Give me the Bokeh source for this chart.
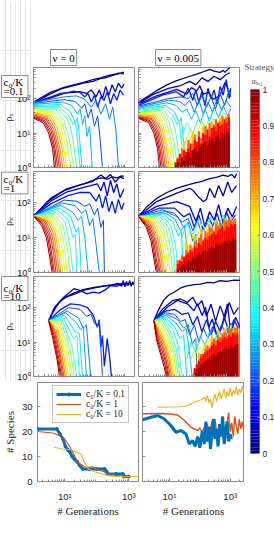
import math
from bokeh.plotting import figure
from bokeh.layouts import row, column
from bokeh.models import Legend, LegendItem, FixedTicker, Title, Range1d
from bokeh.core.properties import value
from bokeh.embed import file_html
from bokeh.resources import INLINE

# ----------------------------------------------------------------- data
# density curves: log10(generation) and log10(rho_x), one curve per strategy alpha
P11_A = [0.0, 0.05, 0.1, 0.15, 0.2, 0.25, 0.3, 0.35, 0.4, 0.45, 0.5, 0.55, 0.6, 0.65, 0.7, 0.75, 0.8, 0.85, 0.9, 0.95, 1.0]
P11_X = [
    [0.15, 0.68, 1.08, 1.40, 1.71, 2.00, 2.24, 2.45, 2.65, 2.80, 2.97],
    [0.15, 0.60, 1.00, 1.40, 1.70, 2.00, 2.24, 2.45, 2.65, 2.80, 2.97],
    [0.15, 0.70, 1.00, 1.40, 1.60, 1.80, 1.95, 2.10, 2.20, 2.30, 2.40, 2.50, 2.60, 2.70, 2.80, 2.90, 2.97],
    [0.15, 0.70, 1.10, 1.40, 1.60, 1.75, 1.85, 1.95, 2.05, 2.15, 2.25, 2.35, 2.45, 2.55, 2.65, 2.75, 2.85, 2.96],
    [0.15, 1.10, 1.45, 1.65, 1.75, 1.85, 1.95, 2.05, 2.15, 2.22, 2.30],
    [0.15, 1.10, 1.50, 1.75, 1.95, 2.10, 2.25, 2.40, 2.52, 2.62, 2.72, 2.80],
    [0.15, 1.05, 1.35, 1.52, 1.60, 1.68, 1.75, 1.82, 1.90, 1.98],
    [0.15, 1.00, 1.30, 1.45, 1.52, 1.58, 1.66],
    [0.15, 0.95, 1.25, 1.38, 1.45, 1.52, 1.60],
    [0.15, 0.90, 1.18, 1.30, 1.38, 1.50],
    [0.15, 0.85, 1.10, 1.27, 1.40],
    [0.15, 0.80, 1.04, 1.20, 1.32],
    [0.15, 0.75, 0.98, 1.14, 1.24],
    [0.15, 0.70, 0.93, 1.08, 1.18],
    [0.15, 0.66, 0.88, 1.03, 1.12],
    [0.15, 0.62, 0.83, 0.97, 1.06],
    [0.15, 0.58, 0.78, 0.92, 1.00],
    [0.15, 0.55, 0.74, 0.87, 0.95],
    [0.15, 0.50, 0.70, 0.82, 0.90],
    [0.15, 0.48, 0.66, 0.78, 0.85],
    [0.15, 0.45, 0.62, 0.74, 0.80],
]
P11_Y = [
    [1.90, 2.18, 2.32, 2.40, 2.47, 2.55, 2.60, 2.66, 2.70, 2.72, 2.77],
    [1.87, 2.10, 2.28, 2.38, 2.45, 2.50, 2.58, 2.62, 2.68, 2.74, 2.72],
    [1.88, 2.05, 2.15, 2.18, 2.20, 2.15, 2.25, 2.05, 2.25, 2.00, 2.35, 2.10, 2.40, 2.20, 2.45, 2.30, 2.42],
    [1.89, 2.02, 2.15, 2.22, 2.18, 2.05, 2.15, 1.90, 2.10, 1.75, 2.05, 1.95, 2.20, 1.85, 2.15, 1.95, 2.25, 2.10],
    [1.86, 1.97, 1.92, 1.72, 1.85, 1.45, 1.70, 1.20, 1.50, 0.90, 0.0],
    [1.88, 2.05, 2.08, 1.98, 1.75, 1.95, 1.55, 1.85, 1.40, 1.75, 1.10, 0.0],
    [1.83, 1.90, 1.80, 1.55, 1.70, 1.25, 1.50, 0.90, 1.20, 0.0],
    [1.80, 1.83, 1.62, 1.30, 1.45, 0.90, 0.0],
    [1.77, 1.77, 1.50, 1.25, 1.35, 0.80, 0.0],
    [1.74, 1.72, 1.42, 1.20, 0.80, 0.0],
    [1.71, 1.67, 1.36, 0.80, 0.0],
    [1.68, 1.62, 1.30, 0.70, 0.0],
    [1.65, 1.58, 1.25, 0.65, 0.0],
    [1.62, 1.54, 1.20, 0.60, 0.0],
    [1.59, 1.50, 1.16, 0.60, 0.0],
    [1.56, 1.46, 1.12, 0.55, 0.0],
    [1.53, 1.42, 1.10, 0.55, 0.0],
    [1.50, 1.39, 1.07, 0.55, 0.0],
    [1.48, 1.36, 1.05, 0.55, 0.0],
    [1.46, 1.33, 1.02, 0.55, 0.0],
    [1.43, 1.30, 1.00, 0.55, 0.0],
]

P21_A = [0.0, 0.05, 0.1, 0.15, 0.2, 0.25, 0.3, 0.35, 0.4, 0.45, 0.5, 0.55, 0.6, 0.65, 0.7, 0.75, 0.8, 0.85, 0.9, 0.95, 1.0]
P21_X = [
    [0.15, 0.60, 1.10, 1.60, 2.00, 2.25, 2.40, 2.55, 2.70, 2.85, 2.97],
    [0.15, 0.68, 1.20, 1.72, 2.14, 2.30, 2.45, 2.60, 2.75, 2.90, 2.97],
    [0.15, 0.68, 1.20, 1.72, 2.14, 2.25, 2.35, 2.45, 2.55, 2.65, 2.75, 2.85, 2.97],
    [0.15, 0.70, 1.20, 1.60, 1.90, 2.10, 2.20, 2.30, 2.40, 2.50, 2.60, 2.70, 2.80, 2.90, 2.97],
    [0.15, 1.10, 1.50, 1.75, 1.90, 2.05, 2.15, 2.25, 2.33, 2.36],
    [0.15, 1.05, 1.45, 1.65, 1.78, 1.90, 2.00, 2.10, 2.20],
    [0.15, 1.00, 1.35, 1.55, 1.65, 1.75, 1.85],
    [0.15, 0.95, 1.30, 1.48, 1.56, 1.64],
    [0.15, 0.90, 1.22, 1.38, 1.45, 1.50],
    [0.15, 0.85, 1.14, 1.28, 1.38],
    [0.15, 0.80, 1.06, 1.20, 1.28],
    [0.15, 0.75, 0.99, 1.12, 1.20],
    [0.15, 0.70, 0.93, 1.05, 1.13],
    [0.15, 0.66, 0.87, 0.98, 1.06],
    [0.15, 0.62, 0.82, 0.93, 1.00],
    [0.15, 0.58, 0.77, 0.88, 0.95],
    [0.15, 0.54, 0.72, 0.83, 0.90],
    [0.15, 0.50, 0.67, 0.78, 0.85],
    [0.15, 0.46, 0.63, 0.73, 0.80],
    [0.15, 0.43, 0.59, 0.69, 0.76],
    [0.15, 0.40, 0.55, 0.65, 0.72],
]
P21_Y = [
    [1.62, 2.05, 2.35, 2.52, 2.62, 2.80, 2.70, 2.82, 2.60, 2.75, 2.70],
    [1.62, 2.13, 2.41, 2.55, 2.70, 2.72, 2.68, 2.75, 2.72, 2.78, 2.76],
    [1.62, 2.05, 2.32, 2.45, 2.55, 2.35, 2.60, 2.20, 2.65, 2.30, 2.55, 2.15, 2.40],
    [1.62, 1.98, 2.20, 2.30, 2.30, 2.05, 2.25, 1.85, 2.20, 1.75, 2.05, 1.70, 2.10, 1.80, 2.00],
    [1.62, 2.08, 2.05, 1.90, 1.98, 1.65, 1.85, 1.30, 1.50, 0.0],
    [1.62, 2.00, 1.92, 1.70, 1.80, 1.35, 1.55, 0.80, 0.0],
    [1.62, 1.93, 1.75, 1.50, 1.62, 1.00, 0.0],
    [1.62, 1.85, 1.62, 1.15, 1.30, 0.0],
    [1.62, 1.78, 1.52, 1.00, 1.10, 0.0],
    [1.62, 1.72, 1.44, 0.80, 0.0],
    [1.62, 1.67, 1.36, 0.75, 0.0],
    [1.62, 1.62, 1.30, 0.70, 0.0],
    [1.62, 1.58, 1.25, 0.65, 0.0],
    [1.62, 1.55, 1.20, 0.60, 0.0],
    [1.62, 1.52, 1.16, 0.55, 0.0],
    [1.62, 1.49, 1.13, 0.55, 0.0],
    [1.62, 1.46, 1.10, 0.50, 0.0],
    [1.62, 1.43, 1.08, 0.50, 0.0],
    [1.62, 1.40, 1.05, 0.45, 0.0],
    [1.62, 1.38, 1.02, 0.45, 0.0],
    [1.62, 1.35, 1.00, 0.45, 0.0],
]

P31_A = [0.0, 0.05, 0.1, 0.15, 0.2, 0.25, 0.3, 0.35, 0.4, 0.45, 0.5, 0.55, 0.6, 0.65, 0.7, 0.75, 0.8, 0.85, 0.9, 0.95, 1.0]
P31_X = [
    [0.62, 0.85, 1.10, 1.40, 1.70, 2.00, 2.30, 2.60, 2.80, 2.90, 2.95, 3.00, 3.05, 3.10, 3.15, 3.20, 3.25, 3.28],
    [0.62, 0.80, 1.00, 1.20, 1.45, 1.70, 1.95, 2.20, 2.45, 2.70, 2.95, 3.10, 3.28],
    [0.62, 0.80, 1.09, 1.41, 1.60, 1.82, 2.00, 2.20, 2.40, 2.55, 2.75, 2.90, 3.05, 3.20, 3.28],
    [0.62, 1.00, 1.30, 1.60, 1.82, 2.00, 2.14, 2.20, 2.25, 2.30, 2.36, 2.45, 2.52, 2.58],
    [0.62, 1.25, 1.60, 1.80, 1.95, 2.05, 2.14, 2.20, 2.25, 2.30],
    [0.62, 1.20, 1.55, 1.70, 1.80, 1.93],
    [0.62, 1.15, 1.50, 1.62, 1.70, 1.80],
    [0.62, 1.12, 1.45, 1.58, 1.68],
    [0.62, 1.08, 1.40, 1.50, 1.58],
    [0.62, 1.04, 1.34, 1.50],
    [0.62, 1.00, 1.28, 1.42],
    [0.62, 0.96, 1.22, 1.36],
    [0.62, 0.93, 1.17, 1.30],
    [0.62, 0.90, 1.12, 1.24],
    [0.62, 0.88, 1.08, 1.19],
    [0.62, 0.85, 1.04, 1.14],
    [0.62, 0.83, 1.00, 1.10],
    [0.62, 0.81, 0.97, 1.06],
    [0.62, 0.79, 0.94, 1.02],
    [0.62, 0.77, 0.91, 0.99],
    [0.62, 0.75, 0.88, 0.96],
]
P31_Y = [
    [1.62, 2.05, 2.28, 2.42, 2.52, 2.58, 2.62, 2.66, 2.70, 2.62, 2.78, 2.60, 2.76, 2.64, 2.78, 2.62, 2.75, 2.68],
    [1.62, 1.95, 2.21, 2.32, 2.40, 2.50, 2.55, 2.60, 2.64, 2.67, 2.70, 2.69, 2.70],
    [1.62, 2.00, 2.30, 2.55, 2.50, 2.40, 2.45, 2.42, 2.52, 2.64, 2.62, 2.68, 2.66, 2.70, 2.68],
    [1.62, 1.95, 2.11, 2.08, 2.01, 1.80, 1.43, 1.63, 0.85, 1.19, 0.30, 1.10, 0.60, 0.0],
    [1.62, 2.00, 1.95, 1.75, 1.80, 1.55, 1.45, 1.65, 0.85, 0.0],
    [1.62, 1.90, 1.70, 1.40, 1.50, 0.0],
    [1.62, 1.85, 1.55, 1.35, 1.45, 0.0],
    [1.62, 1.78, 1.30, 1.25, 0.0],
    [1.62, 1.70, 1.10, 1.20, 0.0],
    [1.62, 1.65, 0.90, 0.0],
    [1.62, 1.60, 0.85, 0.0],
    [1.62, 1.55, 0.80, 0.0],
    [1.62, 1.50, 0.75, 0.0],
    [1.62, 1.45, 0.70, 0.0],
    [1.62, 1.40, 0.65, 0.0],
    [1.62, 1.35, 0.60, 0.0],
    [1.62, 1.30, 0.55, 0.0],
    [1.62, 1.25, 0.55, 0.0],
    [1.62, 1.20, 0.50, 0.0],
    [1.62, 1.15, 0.50, 0.0],
    [1.62, 1.10, 0.50, 0.0],
]

P12_A = [0.0, 0.05, 0.1, 0.15, 0.2, 0.25, 0.3, 0.35, 0.4, 0.45, 0.5, 0.55, 0.6, 0.65, 0.7, 0.75, 0.8, 0.85, 0.9, 0.95, 1.0, 0.45, 0.55, 0.65]
P12_X = [
    [0.11, 0.45, 0.71, 1.05, 1.37, 1.70, 2.03, 2.25, 2.46, 2.60, 2.79, 2.90, 2.96, 3.05, 3.12],
    [0.11, 0.60, 1.10, 1.50, 1.80, 2.00, 2.20, 2.40, 2.60, 2.80, 3.00, 3.12],
    [0.11, 0.71, 1.37, 1.70, 1.86, 2.03, 2.13, 2.25, 2.41, 2.57, 2.79, 2.96, 3.07],
    [0.11, 0.90, 1.36, 1.60, 1.75, 1.90, 2.00, 2.10, 2.20, 2.30, 2.40, 2.50, 2.60, 2.70, 2.80, 2.90, 3.00, 3.10, 3.15],
    [0.11, 1.10, 1.50, 1.75, 1.90, 2.05, 2.20, 2.35, 2.50, 2.65, 2.80, 2.95, 3.10, 3.15],
    [0.11, 1.10, 1.45, 1.65, 1.80, 1.95, 2.10, 2.25, 2.40, 2.55, 2.70, 2.85, 3.00, 3.15],
    [0.11, 1.05, 1.35, 1.55, 1.70, 1.85, 2.00, 2.15, 2.30, 2.45, 2.60, 2.75, 2.90, 3.05, 3.15],
    [0.11, 1.00, 1.30, 1.45, 1.52, 1.58, 1.66],
    [0.11, 0.95, 1.25, 1.38, 1.45, 1.52, 1.60],
    [0.11, 0.90, 1.18, 1.30, 1.38, 1.50],
    [0.11, 0.85, 1.10, 1.27, 1.40],
    [0.11, 0.80, 1.04, 1.20, 1.32],
    [0.11, 0.75, 0.98, 1.14, 1.24],
    [0.11, 0.70, 0.93, 1.08, 1.18],
    [0.11, 0.66, 0.88, 1.03, 1.12],
    [0.11, 0.62, 0.83, 0.97, 1.06],
    [0.11, 0.58, 0.78, 0.92, 1.00],
    [0.11, 0.55, 0.74, 0.87, 0.95],
    [0.11, 0.50, 0.70, 0.82, 0.90],
    [0.11, 0.48, 0.66, 0.78, 0.85],
    [0.11, 0.45, 0.62, 0.74, 0.80],
    [1.50, 1.70, 1.90, 2.10, 2.30, 2.50, 2.70, 2.90, 3.10],
    [1.60, 1.80, 2.00, 2.20, 2.40, 2.60, 2.80, 3.00, 3.15],
    [1.70, 1.90, 2.10, 2.30, 2.50, 2.70, 2.90, 3.10],
]
P12_Y = [
    [1.89, 2.08, 2.23, 2.40, 2.52, 2.62, 2.71, 2.78, 2.85, 2.80, 2.76, 2.82, 2.76, 2.85, 2.90],
    [1.86, 2.12, 2.30, 2.38, 2.50, 2.40, 2.60, 2.50, 2.65, 2.55, 2.70, 2.75],
    [1.84, 2.08, 2.27, 2.13, 2.32, 2.22, 2.37, 2.13, 2.18, 1.98, 2.08, 2.47, 2.27],
    [1.80, 2.10, 2.20, 2.05, 2.30, 1.95, 2.25, 1.90, 2.20, 1.80, 2.30, 2.00, 2.25, 1.85, 2.35, 2.10, 2.55, 2.00, 2.30],
    [1.78, 2.00, 2.05, 2.00, 2.15, 1.80, 2.10, 1.75, 2.05, 1.70, 2.15, 1.80, 2.25, 2.05],
    [1.75, 1.95, 1.92, 1.80, 1.95, 1.60, 1.95, 1.55, 1.90, 1.60, 2.00, 1.65, 1.95, 1.75],
    [1.72, 1.88, 1.80, 1.60, 1.70, 1.40, 1.65, 1.30, 1.70, 1.35, 1.75, 1.45, 1.80, 1.50, 1.70],
    [1.69, 1.80, 1.62, 1.30, 1.45, 0.90, 0.0],
    [1.66, 1.75, 1.50, 1.25, 1.35, 0.80, 0.0],
    [1.63, 1.70, 1.42, 1.20, 0.80, 0.0],
    [1.61, 1.66, 1.36, 0.80, 0.0],
    [1.59, 1.62, 1.30, 0.70, 0.0],
    [1.57, 1.58, 1.25, 0.65, 0.0],
    [1.55, 1.54, 1.20, 0.60, 0.0],
    [1.53, 1.50, 1.16, 0.60, 0.0],
    [1.51, 1.46, 1.12, 0.55, 0.0],
    [1.49, 1.42, 1.10, 0.55, 0.0],
    [1.48, 1.39, 1.07, 0.55, 0.0],
    [1.46, 1.36, 1.05, 0.55, 0.0],
    [1.45, 1.33, 1.02, 0.55, 0.0],
    [1.43, 1.30, 1.00, 0.55, 0.0],
    [0.80, 1.30, 1.00, 1.45, 1.15, 1.50, 1.20, 1.60, 1.40],
    [0.60, 1.10, 0.90, 1.35, 1.10, 1.40, 1.25, 1.50, 1.30],
    [0.50, 1.00, 0.90, 1.25, 1.05, 1.35, 1.20, 1.45],
]

P22_A = [0.0, 0.05, 0.1, 0.15, 0.2, 0.25, 0.3, 0.35, 0.4, 0.45, 0.5, 0.55, 0.6, 0.65, 0.7, 0.75, 0.8, 0.85, 0.9, 0.95, 1.0, 0.4, 0.55, 0.65]
P22_X = [
    [0.11, 0.40, 0.71, 1.05, 1.37, 1.65, 1.92, 2.20, 2.46, 2.70, 2.90, 3.05, 3.18, 3.28, 3.34],
    [0.11, 0.71, 1.37, 1.80, 1.92, 2.05, 2.25, 2.35, 2.46, 2.62, 2.75, 2.90, 3.05, 3.18, 3.34],
    [0.11, 0.71, 1.37, 1.80, 2.00, 2.15, 2.30, 2.45, 2.60, 2.75, 2.90, 3.05, 3.20, 3.34],
    [0.11, 0.80, 1.30, 1.60, 1.80, 1.95, 2.10, 2.25, 2.40, 2.55, 2.70, 2.85, 3.00, 3.15, 3.30],
    [0.11, 0.90, 1.30, 1.55, 1.75, 1.90, 2.05, 2.20, 2.35, 2.50, 2.65, 2.80, 2.95, 3.10, 3.25],
    [0.11, 1.00, 1.40, 1.60, 1.75, 1.90, 2.00, 2.10],
    [0.11, 0.95, 1.30, 1.50, 1.62, 1.72, 1.82],
    [0.11, 0.90, 1.25, 1.42, 1.52, 1.60],
    [0.11, 0.85, 1.18, 1.33, 1.42],
    [0.11, 0.80, 1.10, 1.25, 1.33],
    [0.11, 0.75, 1.02, 1.16, 1.25],
    [0.11, 0.70, 0.95, 1.08, 1.16],
    [0.11, 0.66, 0.89, 1.01, 1.09],
    [0.11, 0.62, 0.83, 0.95, 1.03],
    [0.11, 0.58, 0.78, 0.89, 0.97],
    [0.11, 0.54, 0.73, 0.84, 0.92],
    [0.11, 0.50, 0.68, 0.79, 0.87],
    [0.11, 0.46, 0.64, 0.75, 0.82],
    [0.11, 0.43, 0.60, 0.70, 0.78],
    [0.11, 0.40, 0.56, 0.66, 0.74],
    [0.11, 0.37, 0.52, 0.62, 0.70],
    [1.50, 1.70, 1.90, 2.10, 2.30, 2.50, 2.70, 2.90, 3.10, 3.30],
    [1.60, 1.80, 2.00, 2.20, 2.40, 2.60, 2.80, 3.00, 3.20, 3.34],
    [1.70, 1.90, 2.10, 2.30, 2.50, 2.70, 2.90, 3.10, 3.30],
]
P22_Y = [
    [1.61, 1.90, 2.13, 2.30, 2.42, 2.50, 2.56, 2.62, 2.70, 2.74, 2.80, 2.76, 2.82, 2.72, 2.84],
    [1.61, 2.04, 2.28, 2.42, 2.35, 2.20, 2.04, 2.10, 2.42, 2.15, 2.50, 2.20, 2.60, 2.30, 2.50],
    [1.61, 1.90, 2.04, 1.90, 1.47, 1.85, 1.30, 1.75, 1.50, 1.95, 1.40, 1.85, 1.60, 1.90],
    [1.61, 1.85, 1.85, 1.60, 1.70, 1.30, 1.65, 1.20, 1.60, 1.35, 1.70, 1.25, 1.75, 1.45, 1.65],
    [1.61, 1.80, 1.70, 1.45, 1.55, 1.20, 1.50, 1.10, 1.45, 1.20, 1.55, 1.25, 1.60, 1.30, 1.50],
    [1.61, 1.75, 1.60, 1.30, 1.45, 0.90, 1.10, 0.0],
    [1.61, 1.72, 1.55, 1.20, 1.35, 0.70, 0.0],
    [1.61, 1.70, 1.45, 1.05, 1.20, 0.0],
    [1.61, 1.67, 1.35, 0.80, 0.0],
    [1.61, 1.64, 1.30, 0.75, 0.0],
    [1.61, 1.60, 1.25, 0.70, 0.0],
    [1.61, 1.56, 1.20, 0.65, 0.0],
    [1.61, 1.52, 1.15, 0.60, 0.0],
    [1.61, 1.48, 1.10, 0.55, 0.0],
    [1.61, 1.45, 1.06, 0.50, 0.0],
    [1.61, 1.42, 1.03, 0.50, 0.0],
    [1.61, 1.39, 1.00, 0.45, 0.0],
    [1.61, 1.36, 0.98, 0.45, 0.0],
    [1.61, 1.34, 0.96, 0.40, 0.0],
    [1.61, 1.32, 0.94, 0.40, 0.0],
    [1.61, 1.30, 0.92, 0.40, 0.0],
    [0.90, 1.40, 1.10, 1.55, 1.25, 1.60, 1.30, 1.65, 1.40, 1.60],
    [0.70, 1.20, 0.95, 1.40, 1.15, 1.50, 1.25, 1.55, 1.35, 1.50],
    [0.60, 1.05, 0.90, 1.30, 1.10, 1.40, 1.20, 1.45, 1.35],
]

P32_A = [0.0, 0.05, 0.1, 0.15, 0.2, 0.25, 0.3, 0.35, 0.4, 0.45, 0.5, 0.55, 0.6, 0.65, 0.7, 0.75, 0.8, 0.85, 0.9, 0.95, 1.0, 0.35, 0.5, 0.65]
P32_X = [
    [0.62, 0.78, 0.94, 1.10, 1.27, 1.50, 1.71, 1.95, 2.15, 2.40, 2.59, 2.80, 3.03, 3.25, 3.45],
    [0.62, 0.90, 1.23, 1.50, 1.72, 1.90, 2.05, 2.20, 2.35, 2.50, 2.65, 2.80, 2.95, 3.10, 3.25, 3.40],
    [0.62, 1.06, 1.39, 1.72, 1.94, 2.05, 2.21, 2.32, 2.43, 2.54, 2.71, 2.87, 3.04, 3.15, 3.31, 3.45],
    [0.62, 1.00, 1.30, 1.55, 1.75, 1.90, 2.05, 2.20, 2.35, 2.50, 2.65, 2.80, 2.95, 3.10, 3.25, 3.40],
    [0.62, 1.00, 1.30, 1.50, 1.65, 1.80, 1.95, 2.10, 2.25, 2.40, 2.55, 2.70, 2.85, 3.00, 3.15, 3.30, 3.45],
    [0.62, 1.05, 1.40, 1.60, 1.75, 1.88, 2.00, 2.05],
    [0.62, 1.00, 1.35, 1.55, 1.68, 1.78, 1.88],
    [0.62, 0.98, 1.30, 1.48, 1.60, 1.70],
    [0.62, 0.95, 1.25, 1.42, 1.55],
    [0.62, 0.92, 1.20, 1.36, 1.48],
    [0.62, 0.90, 1.16, 1.32, 1.42],
    [0.62, 0.87, 1.12, 1.27, 1.37],
    [0.62, 0.85, 1.08, 1.23, 1.32],
    [0.62, 0.83, 1.04, 1.19, 1.28],
    [0.62, 0.81, 1.01, 1.15, 1.24],
    [0.62, 0.79, 0.98, 1.11, 1.20],
    [0.62, 0.77, 0.95, 1.07, 1.16],
    [0.62, 0.75, 0.92, 1.04, 1.12],
    [0.62, 0.73, 0.89, 1.01, 1.09],
    [0.62, 0.72, 0.86, 0.98, 1.06],
    [0.62, 0.71, 0.84, 0.95, 1.03],
    [1.70, 1.85, 2.00, 2.15, 2.30, 2.45, 2.60, 2.75, 2.90, 3.05, 3.20, 3.35],
    [1.80, 2.00, 2.20, 2.40, 2.60, 2.80, 3.00, 3.20, 3.40],
    [1.90, 2.10, 2.30, 2.50, 2.70, 2.90, 3.10, 3.30, 3.45],
]
P32_Y = [
    [1.62, 1.95, 2.21, 2.36, 2.44, 2.57, 2.63, 2.67, 2.68, 2.73, 2.72, 2.78, 2.76, 2.80, 2.79],
    [1.62, 1.95, 2.20, 2.25, 2.15, 2.30, 2.05, 2.20, 1.75, 2.10, 1.60, 2.05, 1.70, 2.15, 1.80, 2.00],
    [1.62, 2.01, 2.21, 2.11, 1.91, 2.11, 1.77, 2.01, 1.43, 1.67, 1.14, 1.53, 2.11, 1.24, 1.72, 1.43],
    [1.62, 1.90, 1.95, 1.80, 1.85, 1.50, 1.75, 1.30, 1.65, 1.20, 1.60, 1.30, 1.70, 1.25, 1.65, 1.40],
    [1.62, 1.85, 1.80, 1.60, 1.65, 1.20, 1.50, 1.00, 1.40, 1.10, 1.45, 1.15, 1.50, 1.20, 1.55, 1.30, 1.50],
    [1.62, 1.80, 1.65, 1.40, 1.50, 0.95, 1.10, 0.0],
    [1.62, 1.78, 1.55, 1.30, 1.40, 0.80, 0.0],
    [1.62, 1.75, 1.45, 1.10, 1.20, 0.0],
    [1.62, 1.72, 1.35, 0.90, 0.0],
    [1.62, 1.68, 1.25, 0.80, 0.0],
    [1.62, 1.62, 1.18, 0.70, 0.0],
    [1.62, 1.55, 1.10, 0.65, 0.0],
    [1.62, 1.48, 1.05, 0.60, 0.0],
    [1.62, 1.42, 1.00, 0.55, 0.0],
    [1.62, 1.36, 0.95, 0.50, 0.0],
    [1.62, 1.30, 0.90, 0.50, 0.0],
    [1.62, 1.25, 0.85, 0.45, 0.0],
    [1.62, 1.20, 0.80, 0.40, 0.0],
    [1.62, 1.15, 0.75, 0.40, 0.0],
    [1.62, 1.10, 0.70, 0.35, 0.0],
    [1.62, 1.05, 0.65, 0.30, 0.0],
    [0.50, 1.00, 0.70, 1.20, 0.90, 1.30, 1.00, 1.35, 1.10, 1.45, 1.20, 1.40],
    [0.40, 0.90, 0.70, 1.15, 0.95, 1.30, 1.10, 1.40, 1.30],
    [0.50, 0.85, 0.75, 1.10, 0.95, 1.25, 1.15, 1.40, 1.35],
]

# dense high-strategy region (nu = 0.005): log10 generation bin edges, log10 top per bin
FILL_EDGES = [1.30, 1.37, 1.44, 1.51, 1.58, 1.65, 1.72, 1.79, 1.86, 1.93, 2.00, 2.07, 2.14, 2.21, 2.28, 2.35,
              2.42, 2.49, 2.56, 2.63, 2.70, 2.77, 2.84, 2.91, 2.98, 3.05, 3.12, 3.19, 3.26, 3.33, 3.40]
FILL_ALPHA = [0.68, 0.78, 0.87, 0.97]  # yellow, orange, red, dark red layers
P12_FILL = [
    [0, 0, 0, 0, 0.75, 0, 0, 0, 1.00, 0, 0, 0, 0, 1.20, 0, 0, 0, 1.35, 0, 0, 0, 1.45, 0, 0, 1.50, 0, 0, 0, 0, 0],
    [0, 0.30, 0, 0.55, 0.50, 0.35, 0.80, 0.45, 0.70, 0.95, 0.60, 1.05, 0.85, 1.00, 1.20, 0.90, 1.30, 1.10, 1.25, 1.40, 1.15, 1.35, 1.50, 1.30, 1.45, 1.55, 0, 0, 0, 0],
    [0.15, 0.25, 0.40, 0.20, 0.50, 0.45, 0.55, 0.70, 0.50, 0.80, 0.75, 0.90, 0.70, 1.00, 0.95, 1.10, 0.90, 1.15, 1.20, 1.05, 1.30, 1.20, 1.25, 1.40, 1.30, 1.45, 0, 0, 0, 0],
    [0.05, 0.15, 0.10, 0.30, 0.20, 0.35, 0.45, 0.30, 0.50, 0.55, 0.45, 0.65, 0.60, 0.70, 0.75, 0.65, 0.80, 0.85, 0.75, 0.90, 0.95, 0.85, 1.00, 0.95, 1.05, 1.00, 0, 0, 0, 0],
]
P22_FILL = [
    [0, 0, 0, 0, 0, 0.85, 0, 0, 0, 1.05, 0, 0, 1.25, 0, 0, 0, 1.40, 0, 0, 1.50, 0, 0, 0, 1.55, 0, 0, 1.60, 0, 0, 0],
    [0, 0.35, 0.20, 0.50, 0.45, 0.65, 0.60, 0.80, 0.70, 0.90, 0.85, 1.00, 1.10, 0.95, 1.20, 1.15, 1.30, 1.25, 1.20, 1.40, 1.35, 1.45, 1.30, 1.50, 1.45, 1.55, 1.50, 1.45, 1.55, 0],
    [0, 0.25, 0.35, 0.30, 0.45, 0.50, 0.55, 0.65, 0.60, 0.75, 0.70, 0.85, 0.80, 0.90, 1.00, 0.95, 1.05, 1.10, 1.15, 1.10, 1.20, 1.25, 1.30, 1.20, 1.35, 1.30, 1.40, 1.35, 1.40, 0],
    [0, 0.10, 0.15, 0.20, 0.25, 0.30, 0.35, 0.30, 0.45, 0.40, 0.50, 0.55, 0.50, 0.60, 0.65, 0.60, 0.70, 0.75, 0.70, 0.80, 0.85, 0.80, 0.85, 0.90, 0.90, 0.95, 0.90, 1.00, 0.95, 0],
]
P32_FILL = [
    [0, 0, 0, 0, 0, 0, 0, 0, 0, 0, 0, 0.70, 0, 0, 1.00, 0, 0, 1.20, 0, 0, 1.35, 0, 0, 1.40, 0, 0, 1.50, 0, 1.45, 0],
    [0, 0, 0, 0, 0, 0, 0, 0, 0, 0.20, 0.40, 0.50, 0.65, 0.60, 0.80, 0.90, 0.85, 1.00, 1.10, 1.05, 1.20, 1.15, 1.25, 1.30, 1.20, 1.35, 1.40, 1.30, 1.40, 1.45],
    [0, 0, 0, 0, 0, 0, 0, 0, 0, 0.25, 0.35, 0.45, 0.55, 0.65, 0.70, 0.75, 0.80, 0.90, 0.95, 0.90, 1.05, 1.00, 1.10, 1.15, 1.10, 1.20, 1.15, 1.25, 1.20, 1.25],
    [0, 0, 0, 0, 0, 0, 0, 0, 0, 0.10, 0.20, 0.25, 0.35, 0.40, 0.45, 0.50, 0.55, 0.60, 0.65, 0.60, 0.70, 0.75, 0.75, 0.80, 0.85, 0.80, 0.90, 0.85, 0.90, 0.95],
]

# number of species vs generations
SP_LABELS = ["c\u2080/K = 0.1", "c\u2080/K = 1", "c\u2080/K = 10"]
SP_COLORS = ["#0072BD", "#D95319", "#EDB120"]
SPL_GEN_01 = [1.4, 5.6, 7.0, 8.7, 10.5, 12.3, 14, 17, 20, 24, 29, 36, 60, 100, 174, 200, 215, 400, 650, 700, 1000]
SPL_VAL_01 = [21, 21, 19, 17, 14, 12.7, 12, 10, 9, 8, 6.5, 5, 5, 5, 5, 4, 3, 3, 3, 2, 2]
SPL_GEN_1 = [1.4, 4.2, 8.7, 12.3, 17.8, 25, 40, 55, 74, 100, 120, 160, 215, 300, 400, 560, 1000]
SPL_VAL_1 = [20, 19.4, 17.8, 15.3, 11.7, 7.7, 6, 5.7, 5.9, 5, 4.5, 4, 3.1, 3, 2.5, 2.1, 2]
SPL_GEN_10 = [4.6, 8.7, 15.9, 22.9, 32, 41, 53, 84, 136, 264, 500, 1000, 2000]
SPL_VAL_10 = [13.7, 13, 12.7, 11.7, 11, 7.7, 5.2, 3.9, 3.2, 2.1, 2, 2, 2]
SPR_GEN_01 = [1.3, 2.5, 4.1, 6.8, 11.2, 16.3, 24, 35, 45, 58, 70, 85, 100, 120, 141, 158, 178, 200, 224, 251,
              282, 316, 355, 398, 447, 501, 562, 631, 708, 794, 891, 1000, 1100]
SPR_VAL_01 = [24.7, 25.7, 26.4, 25, 22.4, 19.7, 20.4, 19, 15, 16.4, 14, 18, 13.5, 20, 15, 24, 16, 22, 13, 19,
              25, 17, 21, 14, 23, 18, 26, 15, 20, 24, 16, 19, 17]
SPR_GEN_1 = [1.3, 5, 10, 18.6, 31, 51, 85, 100, 120, 141, 158, 178, 200, 224, 251, 282, 316, 355, 398, 447,
             501, 562, 631, 708, 794, 891, 1000, 1122, 1259, 1413, 1585, 1778, 1995, 2239, 2512, 2818]
SPR_VAL_1 = [27.1, 27.2, 27.0, 26.6, 24.4, 21.7, 20.4, 21.5, 19.5, 22, 18.5, 23, 17.5, 21, 24, 18, 25, 20, 16, 23,
             19, 26, 21.5, 17, 24, 27.5, 20, 23.5, 18, 26, 22, 19, 25, 21, 24, 20]
SPR_GEN_10 = [4.1, 10, 24, 40, 66, 110, 141, 158, 178, 200, 224, 251, 282, 316, 355, 398, 447, 501, 562, 631,
              708, 794, 891, 1000, 1122, 1259, 1413, 1585, 1778, 1995, 2239, 2512, 2818]
SPR_VAL_10 = [29.7, 29.8, 29.9, 30.4, 31.7, 32.7, 33.7, 32, 34.5, 31.5, 33, 29.5, 33, 35, 32, 34, 36, 33, 35, 37,
              33.5, 36, 34, 37.5, 34, 36.5, 35, 38, 34.5, 37, 35.5, 38, 36]

ROW_LABELS = [["c\u2080/K", "=0.1"], ["c\u2080/K", "=1"], ["c\u2080/K", "=10"]]
COL_LABELS = ["\u03bd = 0", "\u03bd = 0.005"]
RHO_TICKS = [1, 10, 100]
RHO_TICK_LABELS = ["10\u2070", "10\u00b9", "10\u00b2"]
CB_TICKS = [0, 0.1, 0.2, 0.3, 0.4, 0.5, 0.6, 0.7, 0.8, 0.9, 1]

# ----------------------------------------------------------------- style
FRAME_C = "#8c8c8c"
TXT_C = "#262626"
F_TICK = "Liberation Sans"
F_TEX = "Liberation Serif"
LOG_MINOR = [m * 10 ** k for k in range(0, 4) for m in range(2, 10)]
XL_RANGE = (1.4, 2000)
XR_RANGE = (1.3, 2950)
Y_RANGE = (1, 800)
LOGTOP = math.log10(Y_RANGE[1])

ROWS = [(100, 67, 2), (101, 2, 2), (100, 2, 5)]   # frame height, top border, bottom border
BOXES = [(8, 30), (0.7, 22.3), (0, 24)]           # row-label box, px below the frame top
LINE_OFFS = [(14.5, 23.5), (7.2, 16.2), (11.0, 19.5)]


def jet(t):
    def c(v):
        return max(0.0, min(1.0, v))
    r = c(1.5 - abs(4 * t - 3))
    g = c(1.5 - abs(4 * t - 2))
    b = c(1.5 - abs(4 * t - 1))
    return "#%02x%02x%02x" % (round(r * 255), round(g * 255), round(b * 255))


def base(xr, yr, xt, yt, fw, fh, bl, br, bt, bb):
    p = figure(x_axis_type=xt, y_axis_type=yt, x_range=xr, y_range=yr,
               frame_width=fw, frame_height=fh,
               min_border_left=bl, min_border_right=br, min_border_top=bt, min_border_bottom=bb,
               output_backend="svg", toolbar_location=None,
               background_fill_color="white", border_fill_color="white",
               outline_line_color=FRAME_C, outline_line_width=1)
    p.xgrid.visible = False
    p.ygrid.visible = False
    for ax in p.axis:
        ax.axis_line_color = None
        ax.major_tick_in = 3
        ax.major_tick_out = 0
        ax.minor_tick_in = 2
        ax.minor_tick_out = 0
        ax.major_tick_line_color = FRAME_C
        ax.minor_tick_line_color = FRAME_C
        ax.major_label_text_font = F_TICK
        ax.major_label_text_font_size = "9.5px"
        ax.major_label_text_color = TXT_C
        ax.axis_label_text_font = F_TEX
        ax.axis_label_text_font_size = "11px"
        ax.axis_label_text_font_style = "normal"
        ax.axis_label_text_color = TXT_C
    return p


def hide_labels(ax):
    ax.major_label_text_font_size = "1px"
    ax.major_label_text_alpha = 0
    ax.major_label_standoff = 0


def rho_panel(left, fh, bt, bb):
    if left:
        p = base(XL_RANGE, Y_RANGE, "log", "log", 101, fh, 2, 2, bt, bb)
    else:
        p = base(XR_RANGE, Y_RANGE, "log", "log", 102, fh, 2, 0, bt, bb)
    p.xaxis.ticker = FixedTicker(ticks=[10, 1000], minor_ticks=LOG_MINOR)
    p.yaxis.ticker = FixedTicker(ticks=RHO_TICKS, minor_ticks=LOG_MINOR)
    hide_labels(p.xaxis[0])
    hide_labels(p.yaxis[0])
    return p


def draw_curves(p, A, X, Y):
    for a, xs, ys in zip(A, X, Y):
        p.line([10 ** v for v in xs], [10 ** v for v in ys], line_color=jet(a),
               line_width=1.3 if a <= 0.15 else 1.0)


def draw_fill(p, layers):
    for a, tops in zip(FILL_ALPHA, layers):
        L, R, T = [], [], []
        for i, v in enumerate(tops):
            if v > 0:
                L.append(10 ** FILL_EDGES[i])
                R.append(10 ** FILL_EDGES[i + 1])
                T.append(10 ** v)
        p.quad(left=L, right=R, bottom=1, top=T, fill_color=jet(a), line_color=None)


def col_title(p, text):
    p.add_layout(Title(text=text, align="left", offset=17, text_font=F_TEX, text_font_size="11px",
                       text_font_style="normal", text_color="black", border_line_color=FRAME_C,
                       border_line_width=1, background_fill_color="white", padding=2, standoff=4), "above")


# ----------------------------------------------------------------- rho panels
L1 = rho_panel(True, *ROWS[0])
R1 = rho_panel(False, *ROWS[0])
L2 = rho_panel(True, *ROWS[1])
R2 = rho_panel(False, *ROWS[1])
L3 = rho_panel(True, *ROWS[2])
R3 = rho_panel(False, *ROWS[2])

draw_curves(L1, P11_A, P11_X, P11_Y)
draw_curves(L2, P21_A, P21_X, P21_Y)
draw_curves(L3, P31_A, P31_X, P31_Y)
draw_curves(R1, P12_A, P12_X, P12_Y)
draw_curves(R2, P22_A, P22_X, P22_Y)
draw_curves(R3, P32_A, P32_X, P32_Y)
draw_fill(R1, P12_FILL)
draw_fill(R2, P22_FILL)
draw_fill(R3, P32_FILL)

col_title(L1, COL_LABELS[0])
col_title(R1, COL_LABELS[1])

# ------------------------------------------ left margin strip (screen px, y downward)
STRIP_H = sum(fh + bt + bb for fh, bt, bb in ROWS)
S = figure(x_range=(0, 31), y_range=Range1d(STRIP_H, 0), frame_width=31, frame_height=STRIP_H,
           min_border_left=0, min_border_right=0, min_border_top=0, min_border_bottom=0,
           x_axis_location=None, y_axis_location=None, outline_line_color=None,
           output_backend="svg", toolbar_location=None,
           background_fill_color="white", border_fill_color="white")
y0 = 0
for r, (fh, bt, bb) in enumerate(ROWS):
    top = y0 + bt
    ppd = fh / LOGTOP
    S.text(x=[30] * len(RHO_TICKS), y=[top + (LOGTOP - math.log10(v)) * ppd for v in RHO_TICKS],
           text=RHO_TICK_LABELS, text_align="right", text_baseline="middle",
           text_font=value(F_TICK), text_font_size=value("9.5px"), text_color=TXT_C)
    S.text(x=[8], y=[top + fh / 2], text=["\u03c1\u2093"], angle=math.pi / 2, text_align="center",
           text_baseline="middle", text_font=value(F_TEX), text_font_size=value("10px"), text_color=TXT_C)
    S.quad(left=1, right=27.5, top=top + BOXES[r][0], bottom=top + BOXES[r][1], fill_color="white",
           line_color=FRAME_C, line_width=1)
    S.text(x=[3, 3], y=[top + LINE_OFFS[r][0], top + LINE_OFFS[r][1]], text=ROW_LABELS[r],
           text_align="left", text_baseline="middle", text_font=value(F_TEX),
           text_font_size=value("11px"), text_color="black")
    y0 += fh + bt + bb

# ----------------------------------------------------------------- species panels
L4 = base(XL_RANGE, (0, 39.6), "log", "linear", 101, 99, 33, 2, 1, 34)
R4 = base(XR_RANGE, (0, 39.6), "log", "linear", 102, 99, 2, 0, 1, 34)
for p in (L4, R4):
    p.xaxis.ticker = FixedTicker(ticks=[10, 1000], minor_ticks=LOG_MINOR)
    p.xaxis.major_label_overrides = {10: "10\u00b9", 1000: "10\u00b3"}
    p.xaxis.major_label_standoff = 9
    p.xaxis.axis_label = "# Generations"
    p.xaxis.axis_label_standoff = 0
    p.yaxis.ticker = FixedTicker(ticks=[0, 10, 20, 30])
L4.yaxis.major_label_standoff = 5
L4.yaxis.axis_label = "# Species"
L4.yaxis.axis_label_standoff = 3
hide_labels(R4.yaxis[0])

l01 = L4.line(SPL_GEN_01, SPL_VAL_01, line_color=SP_COLORS[0], line_width=3)
s01 = L4.scatter(SPL_GEN_01, SPL_VAL_01, marker="circle", size=3, fill_color=SP_COLORS[0],
                 line_color=SP_COLORS[0])
l1 = L4.line(SPL_GEN_1, SPL_VAL_1, line_color=SP_COLORS[1], line_width=1.2)
l10 = L4.line(SPL_GEN_10, SPL_VAL_10, line_color=SP_COLORS[2], line_width=1.2)
R4.line(SPR_GEN_10, SPR_VAL_10, line_color=SP_COLORS[2], line_width=1.2)
R4.line(SPR_GEN_1, SPR_VAL_1, line_color=SP_COLORS[1], line_width=1.4)
R4.line(SPR_GEN_01, SPR_VAL_01, line_color=SP_COLORS[0], line_width=3)

leg = Legend(items=[LegendItem(label=SP_LABELS[0], renderers=[l01, s01]),
                    LegendItem(label=SP_LABELS[1], renderers=[l1]),
                    LegendItem(label=SP_LABELS[2], renderers=[l10])],
             location=(15, 58), orientation="vertical",
             label_text_font=F_TEX, label_text_font_size="9.5px", label_text_color=TXT_C,
             glyph_width=25, glyph_height=8, label_height=8, label_standoff=5,
             spacing=0, padding=3, margin=0,
             border_line_color=FRAME_C, border_line_width=1, background_fill_alpha=1)
L4.add_layout(leg)

# ----------------------------------------------------------------- colour bar
CB = figure(x_range=(0, 1), y_range=(0, 1), frame_width=9, frame_height=364,
            min_border_left=6, min_border_right=19, min_border_top=89, min_border_bottom=62,
            x_axis_location=None, y_axis_location="right",
            output_backend="svg", toolbar_location=None,
            outline_line_color=FRAME_C, outline_line_width=1)
CB.grid.visible = False
n = 128
CB.quad(left=0, right=1, bottom=[i / n for i in range(n)], top=[(i + 1) / n for i in range(n)],
        fill_color=[jet((i + 0.5) / n) for i in range(n)], line_color=None)
ya = CB.yaxis[0]
ya.ticker = FixedTicker(ticks=CB_TICKS)
ya.major_label_overrides = {t: ("%g" % t) for t in CB_TICKS}
ya.axis_line_color = None
ya.major_tick_in = 2
ya.major_tick_out = 0
ya.minor_tick_line_color = None
ya.major_tick_line_color = FRAME_C
ya.major_label_standoff = 3
ya.major_label_text_font = F_TICK
ya.major_label_text_font_size = "8.5px"
ya.major_label_text_color = TXT_C
CB.add_layout(Title(text="\u03b1\u2093,\u2081", align="left", offset=1, standoff=7, text_font=F_TEX,
                    text_font_size="8px", text_font_style="normal", text_color="#555555"), "above")
CB.add_layout(Title(text="Strategy", align="left", offset=-6, standoff=0, text_font=F_TEX,
                    text_font_size="9px", text_font_style="normal", text_color="#555555"), "above")

upper = row(S, column(row(L1, R1), row(L2, R2), row(L3, R3)))
grid = column(upper, row(L4, R4))
root = row(grid, CB)

open("out.html", "w").write(file_html(root, INLINE))
